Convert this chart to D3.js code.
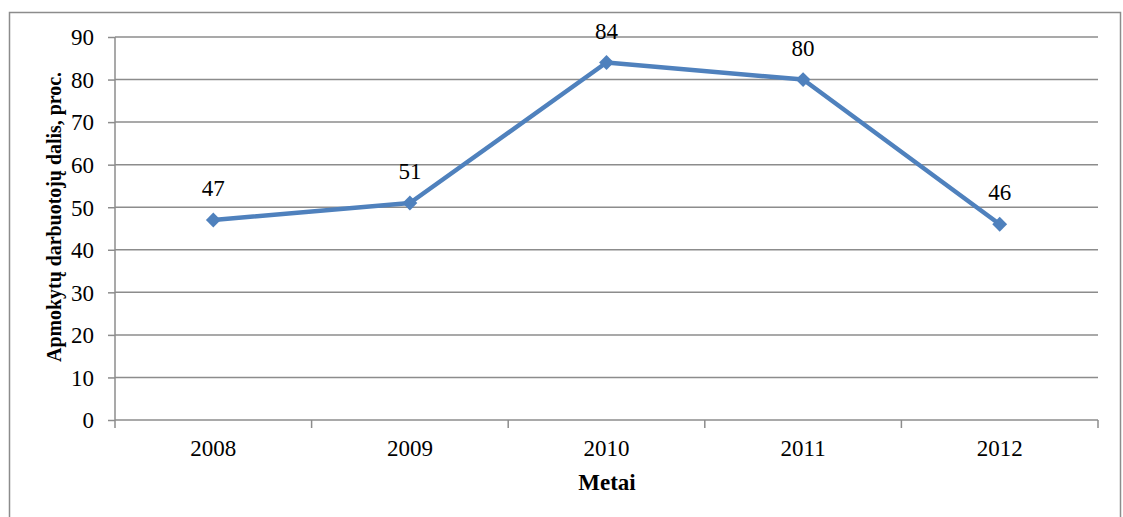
<!DOCTYPE html>
<html><head><meta charset="utf-8">
<script src="https://cdn.jsdelivr.net/npm/d3@7/dist/d3.min.js"></script>
<style>body{margin:0;background:#fff}svg{display:block}</style>
</head><body>
<script>
const years = ["2008","2009","2010","2011","2012"];
const values = [47, 51, 84, 80, 46];
const yTicks = [0,10,20,30,40,50,60,70,80,90];
const yTitle = "Apmokytų darbuotojų dalis, proc.";
const xTitle = "Metai";

const W = 1123, H = 517;
const m = {left:115, right:1098, top:37, bottom:420};
const svg = d3.select("body").append("svg").attr("width",W).attr("height",H);

svg.append("rect").attr("x",9.5).attr("y",12.5).attr("width",1111).attr("height",520)
  .attr("fill","none").attr("stroke","#8c8c8c").attr("stroke-width",1.5);

const x = d3.scaleBand().domain(years).range([m.left,m.right]);
const y = d3.scaleLinear().domain([0,90]).range([m.bottom,m.top]);
const font = "Liberation Serif, Times New Roman, serif";

// gridlines
svg.append("g").selectAll("line").data(yTicks.filter(d=>d>0)).join("line")
  .attr("x1",m.left).attr("x2",m.right).attr("y1",d=>y(d)).attr("y2",d=>y(d))
  .attr("stroke","#8c8c8c").attr("stroke-width",1.5);

// y axis
const ya = svg.append("g").attr("transform",`translate(${m.left},0)`)
  .call(d3.axisLeft(y).tickValues(yTicks).tickSize(7).tickPadding(14));
ya.attr("font-family",font).attr("font-size",23);
ya.select(".domain").attr("stroke","#8c8c8c").attr("stroke-width",1.5).attr("d",`M0,${m.top}V${m.bottom}`);
ya.selectAll(".tick line").attr("stroke","#8c8c8c").attr("stroke-width",1.5);
ya.selectAll(".tick text").attr("fill","#000").attr("dy","0.34em");

// x axis
const xa = svg.append("g").attr("transform",`translate(0,${m.bottom})`)
  .call(d3.axisBottom(x).tickSize(0).tickPadding(20));
xa.attr("font-family",font).attr("font-size",23);
xa.select(".domain").attr("stroke","#8c8c8c").attr("stroke-width",1.5).attr("d",`M${m.left},0H${m.right}`);
xa.selectAll(".tick text").attr("fill","#000");
const bounds = years.map(d=>x(d)).concat([x(years[years.length-1])+x.bandwidth()]);
xa.append("g").selectAll("line").data(bounds).join("line")
  .attr("x1",d=>d).attr("x2",d=>d).attr("y1",0).attr("y2",8)
  .attr("stroke","#8c8c8c").attr("stroke-width",1.5);

// line
const cx = d=>x(d)+x.bandwidth()/2;
const line = d3.line().x((d,i)=>cx(years[i])).y(d=>y(d));
svg.append("path").datum(values).attr("d",line).attr("fill","none")
  .attr("stroke","#4f81bd").attr("stroke-width",4.5).attr("stroke-linejoin","round");

svg.append("g").selectAll("path").data(values).join("path")
  .attr("d",d3.symbol().type(d3.symbolSquare).size(110))
  .attr("transform",(d,i)=>`translate(${cx(years[i])},${y(d)}) rotate(45)`)
  .attr("fill","#4f81bd");

svg.append("g").selectAll("text").data(values).join("text")
  .attr("x",(d,i)=>cx(years[i])).attr("y",d=>y(d)-24)
  .attr("text-anchor","middle").attr("font-family",font).attr("font-size",23)
  .text(d=>d);

// titles
svg.append("text").attr("x",607).attr("y",490).attr("text-anchor","middle")
  .attr("font-family",font).attr("font-weight","bold").attr("font-size",23).text(xTitle);
svg.append("text").attr("transform",`translate(61,217) rotate(-90)`).attr("text-anchor","middle")
  .attr("font-family",font).attr("font-weight","bold").attr("font-size",22)
  .attr("textLength",290).attr("lengthAdjust","spacingAndGlyphs").text(yTitle);
</script>
</body></html>
